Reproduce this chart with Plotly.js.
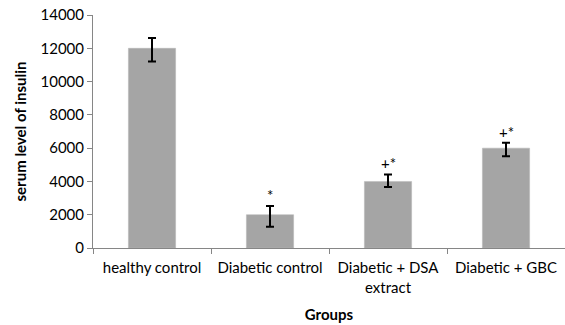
<!DOCTYPE html>
<html>
<head>
<meta charset="utf-8">
<script src="https://cdn.plot.ly/plotly-3.0.1.min.js"></script>
<style>
  html, body { margin: 0; padding: 0; background: #ffffff; }
  #chart { width: 565px; height: 325px; }
</style>
</head>
<body>
<div id="chart"></div>
<script>
// Serum insulin by treatment group
const groups = ["healthy control", "Diabetic control", "Diabetic + DSA<br>extract", "Diabetic + GBC"];
const insulin = [12000, 2000, 4000, 6000];
const errUp = [620, 520, 420, 320];
const errDown = [800, 720, 340, 480];
const marks = ["", "*", "+*", "+*"];

const font = "Lato, 'Open Sans', 'DejaVu Sans', sans-serif";
const fs = 15;

const trace = {
  type: "bar",
  x: groups,
  y: insulin,
  marker: { color: "#a5a5a5", line: { color: "#b4b4b4", width: 0.5 } },
  error_y: {
    type: "data",
    symmetric: false,
    array: errUp,
    arrayminus: errDown,
    color: "#000000",
    thickness: 2,
    width: 4
  },
  hoverinfo: "skip"
};

const annotations = groups.map((g, i) => ({
  x: g,
  y: insulin[i] + errUp[i],
  xref: "x",
  yref: "y",
  text: marks[i],
  showarrow: false,
  yanchor: "bottom",
  yshift: 0,
  font: { family: font, size: fs, color: "#000000" }
})).filter(a => a.text !== "");

const layout = {
  width: 565,
  height: 325,
  margin: { l: 93, r: 0, t: 15, b: 77 },
  paper_bgcolor: "#ffffff",
  plot_bgcolor: "#ffffff",
  bargap: 0.6,
  showlegend: false,
  font: { family: font, size: fs, color: "#000000" },
  xaxis: {
    type: "category",
    showline: true,
    linecolor: "#868686",
    linewidth: 1,
    ticks: "outside",
    tickson: "boundaries",
    ticklen: 5,
    tickcolor: "#868686",
    ticklabelstandoff: 6,
    showgrid: false,
    tickfont: { family: font, size: fs, color: "#000000" },
    title: { text: "<b>Groups</b>", font: { family: font, size: fs, color: "#000000" }, standoff: 14 }
  },
  yaxis: {
    range: [0, 14000],
    dtick: 2000,
    tickformat: "d",
    showline: true,
    linecolor: "#868686",
    linewidth: 1,
    ticks: "outside",
    ticklen: 5,
    tickcolor: "#868686",
    showgrid: false,
    zeroline: false,
    tickfont: { family: font, size: fs, color: "#000000" },
    title: { text: "<b>serum level of insulin</b>", font: { family: font, size: fs, color: "#000000" }, standoff: 10 }
  },
  annotations: annotations
};

Plotly.newPlot("chart", [trace], layout, { staticPlot: true, displayModeBar: false });
</script>
</body>
</html>
